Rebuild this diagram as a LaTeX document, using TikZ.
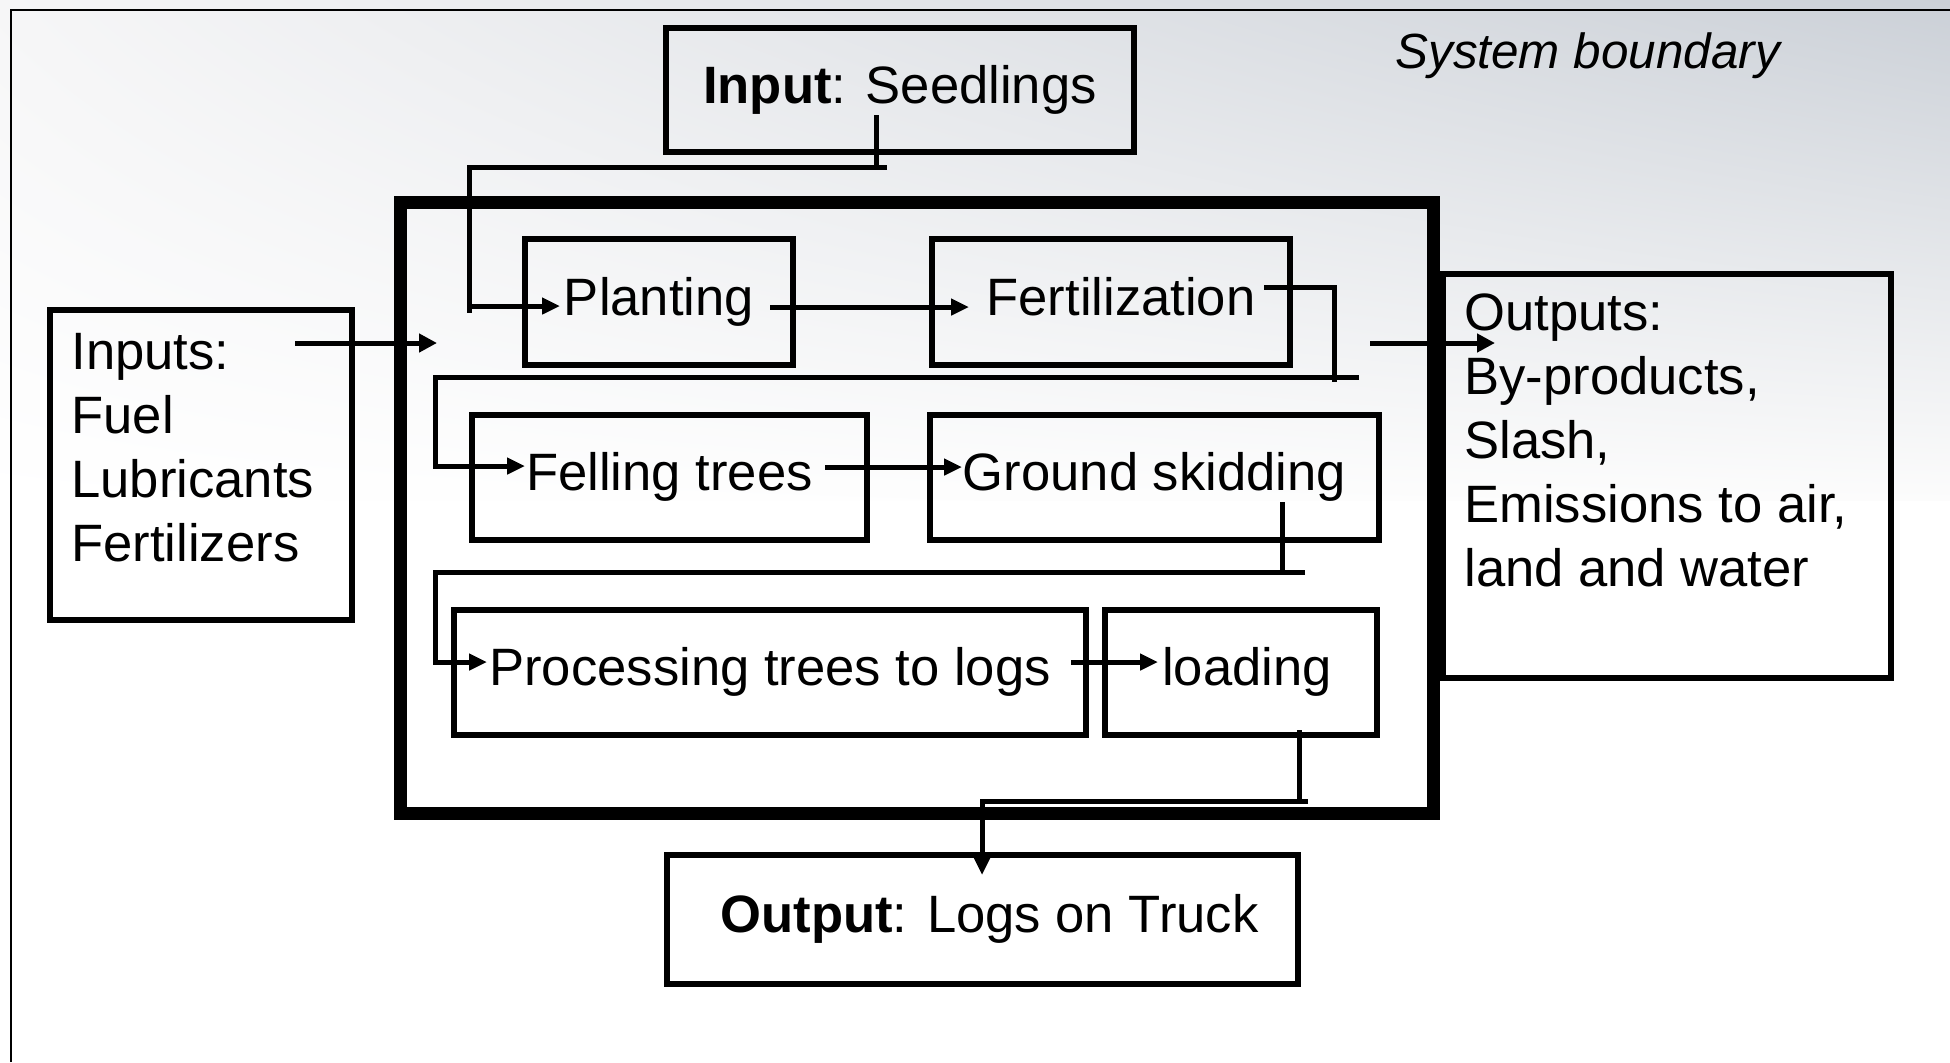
\documentclass[tikz,border=0pt]{standalone}
\usepackage{fontspec}
\setmainfont{Liberation Sans}
\usetikzlibrary{arrows.meta,shadings}
\definecolor{bgtr}{RGB}{203,208,215}
\definecolor{bgtl}{RGB}{246,246,247}
\definecolor{bgml}{RGB}{252,252,252}
\begin{document}
\begin{tikzpicture}[x=0.5pt,y=-0.5pt,
  font=\fontsize{26.3pt}{32pt}\selectfont,
  box/.style={draw, line width=3.2pt, inner sep=0pt, text height=19.7pt, text depth=6.6pt},
  sysbox/.style={draw, line width=6.5pt, inner sep=0pt},
  conn/.style={line width=2.5pt},
  arr/.style={conn, -{Triangle[length=9pt,width=8pt]}},
  bigarr/.style={conn, -{Triangle[length=9pt,width=9pt]}},
  listtext/.style={inner sep=0pt, anchor=north west, align=left}
]
\useasboundingbox (0,0) rectangle (1950,1062);
\fill[white] (0,0) rectangle (1950,1062);
\shade[upper left=bgtl, upper right=bgtr, lower left=white, lower right=bgml] (0,0) rectangle (1950,500);
\draw[line width=1.2pt] (11,1062) -- (11,10) -- (1950,10);

% system boundary
\node[sysbox, minimum width=516.5pt, minimum height=305.5pt] (sys) at (916.5,507.5) {};
\node[font=\fontsize{24.7pt}{30pt}\selectfont\itshape, anchor=base west, inner sep=0pt] (sbl) at (1395,68) {System boundary};

% boxes
\node[box, minimum width=234pt, minimum height=62pt] (seed) at (900,90) {\textbf{Input}: Seedlings};
\node[box, minimum width=134pt, minimum height=63pt] (plant) at (659,302) {Planting};
\node[box, minimum width=179pt, minimum height=63pt] (fert) at (1111,302) {\hspace*{10pt}Fertilization};
\node[box, minimum width=197.5pt, minimum height=62.5pt] (fell) at (669.5,477.5) {Felling trees};
\node[box, minimum width=224.5pt, minimum height=62.5pt] (ground) at (1154.5,477.5) {Ground skidding};
\node[box, minimum width=316pt, minimum height=62.5pt] (proc) at (770,672.5) {Processing trees to logs};
\node[box, minimum width=136pt, minimum height=62.5pt] (load) at (1241,672.5) {\hspace*{6pt}loading};
\node[box, minimum width=315.5pt, minimum height=64.5pt] (out) at (982.5,919.5) {\hspace*{7pt}\textbf{Output}: Logs on Truck};

\node[draw, line width=3.2pt, inner sep=0pt, minimum width=151pt, minimum height=155pt] (inbox) at (201,465) {};
\node[listtext] (intext) at (71,333) {Inputs:\\Fuel\\Lubricants\\Fertilizers};
\node[draw, line width=3.2pt, inner sep=0pt, minimum width=224pt, minimum height=202pt] (outbox) at (1667,476) {};
\node[listtext] (outtext) at (1464,293) {Outputs:\\By-products,\\Slash,\\Emissions to air,\\land and water};

% coordinates
\coordinate (sA) at (876,115);  \coordinate (sB) at (876,170);
\coordinate (sC) at (887,167);  \coordinate (sD) at (469,167);  \coordinate (sE) at (469,313);
\coordinate (sF) at (469,306);  \coordinate (sT) at (560,306);
\coordinate (pA) at (770,307);  \coordinate (pT) at (969,307);
\coordinate (fA) at (1264,287); \coordinate (fB) at (1334,287); \coordinate (fC) at (1334,382);
\coordinate (fD) at (1359,377); \coordinate (fE) at (435,377);  \coordinate (fF) at (435,469);
\coordinate (fG) at (435,466);  \coordinate (fT) at (525,466);
\coordinate (gA) at (825,467);  \coordinate (gT) at (962,467);
\coordinate (kA) at (1282,502); \coordinate (kB) at (1282,575);
\coordinate (kC) at (1305,572); \coordinate (kD) at (435,572);  \coordinate (kE) at (435,665);
\coordinate (kF) at (435,662);  \coordinate (kT) at (487,662);
\coordinate (lA) at (1071,662); \coordinate (lT) at (1158,662);
\coordinate (oA) at (1299,730); \coordinate (oB) at (1299,803);
\coordinate (oC) at (1308,801); \coordinate (oD) at (982,801);  \coordinate (oT) at (982,875);
\coordinate (iA) at (295,343);  \coordinate (iT) at (437,343);
\coordinate (xA) at (1370,343); \coordinate (xT) at (1495,343);

% connectors
\draw[conn] (sA) -- (sB);
\draw[conn] (sC) -- (sD) -- (sE);
\draw[arr] (sF) -- (sT);
\draw[arr] (pA) -- (pT);
\draw[conn] (fA) -- (fB) -- (fC);
\draw[conn] (fD) -- (fE) -- (fF);
\draw[arr] (fG) -- (fT);
\draw[arr] (gA) -- (gT);
\draw[conn] (kA) -- (kB);
\draw[conn] (kC) -- (kD) -- (kE);
\draw[arr] (kF) -- (kT);
\draw[arr] (lA) -- (lT);
\draw[conn] (oA) -- (oB);
\draw[arr] (oC) -- (oD) -- (oT);
\draw[bigarr] (iA) -- (iT);
\draw[bigarr] (xA) -- (xT);
\end{tikzpicture}
\end{document}
